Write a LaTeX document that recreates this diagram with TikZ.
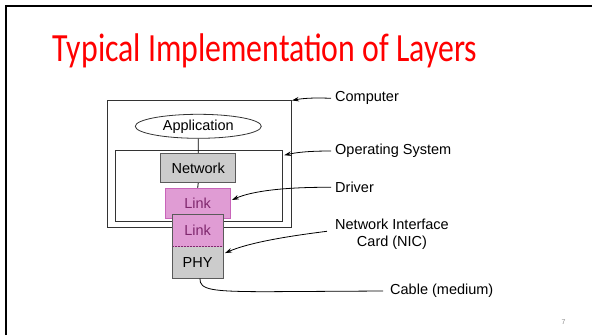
\documentclass[tikz,border=0pt]{standalone}
\usepackage{fontspec}
\setmainfont{Liberation Sans}
\newfontfamily\titlefont{Carlito}
\usetikzlibrary{arrows.meta,shapes.geometric,calc}
\definecolor{pinkfill}{RGB}{224,156,212}
\definecolor{pinkedge}{RGB}{200,100,185}
\definecolor{linktext}{RGB}{128,40,110}
\definecolor{grayfill}{RGB}{204,204,204}
\definecolor{grayedge}{RGB}{90,90,90}
\definecolor{titlered}{RGB}{255,0,0}
\tikzset{
  body/.style={font=\fontsize{14.5}{17}\selectfont},
  plainbox/.style={draw=black!80, line width=0.8pt, inner sep=0pt},
  graybox/.style={draw=grayedge, fill=grayfill, line width=0.8pt, inner sep=0pt, body},
  pinkbox/.style={draw=pinkedge, fill=pinkfill, line width=0.8pt, inner sep=0pt, body, text=linktext},
  lbl/.style={body, anchor=west, inner sep=0pt},
  pointer/.style={-{Stealth[length=7pt,width=4.5pt]}, line width=0.8pt},
  conn/.style={line width=0.8pt}
}
\begin{document}
\begin{tikzpicture}[x=1pt,y=-1pt]
\useasboundingbox (0,0) rectangle (592,335);
% slide frame
\draw[line width=2pt] (6,335) -- (6,5.5) -- (592,5.5);
% title
\node[text=titlered, font=\titlefont\fontsize{40}{44}\selectfont, anchor=base, inner sep=0pt] (title) at (265,61.7) {\scalebox{0.795}[1]{Typical Implementation of Layers}};
% boxes
\node[plainbox, minimum width=183.7pt, minimum height=127.3pt] (comp) at (199.2,163.7) {};
\node[draw=black!80, line width=0.8pt, ellipse, minimum width=126pt, minimum height=24pt, inner sep=0pt, body] (app) at (198.3,126.3) {Application};
\node[plainbox, fill=white, minimum width=166.6pt, minimum height=71pt] (os) at (199,185.8) {};
\node[graybox, minimum width=75pt, minimum height=29.4pt] (net) at (198.2,168) {Network};
\node[pinkbox, minimum width=64.7pt, minimum height=30pt] (drv) at (197.7,203.3) {Link};
\draw[conn] (app.south) -- (net.north);
\draw[conn] (net.south) -- (drv.north);
% NIC
\node[fill=pinkfill, minimum width=51.3pt, minimum height=32.5pt, inner sep=0pt, body, text=linktext] (niclink) at (197.65,230.25) {Link};
\node[fill=grayfill, minimum width=51.3pt, minimum height=31.8pt, inner sep=0pt, body] (phy) at (197.65,262.4) {PHY};
\draw[dashed, draw=linktext, line width=0.6pt, dash pattern=on 2pt off 1pt] (niclink.south west) -- (niclink.south east);
\node[draw=grayedge, line width=0.8pt, minimum width=51.3pt, minimum height=64.3pt, inner sep=0pt] (nic) at (197.65,246.15) {};
% labels
\node[lbl] (lcomp) at (335,98.3) {Computer};
\node[lbl] (los) at (335,151) {Operating System};
\node[lbl] (ldrv) at (335,187.3) {Driver};
\node[body, align=center, inner sep=0pt, anchor=west] (lnic) at (335,234) {Network Interface\\Card (NIC)};
\node[lbl] (lcab) at (390,291) {Cable (medium)};
% pointers
\draw[pointer] ([xshift=-4pt]lcomp.west) .. controls (312,97.5) and (302,98.5) .. ($(comp.north east)+(0.5,0.8)$);
\draw[pointer] ([xshift=-4pt]los.west) .. controls (308,151) and (296,152.5) .. ($(os.north east)+(1.5,5.3)$);
\draw[pointer] ([xshift=-4pt]ldrv.west) .. controls (285,187) and (252,191) .. ($(drv.east)+(1.5,-3.3)$);
\draw[pointer] ([xshift=-8pt,yshift=2.7pt]lnic.west) .. controls (285,236.5) and (248,243) .. ($(phy.north east)+(1.5,6.8)$);
\draw[conn] ([xshift=2.3pt]phy.south) .. controls (199.5,290) and (212,291.5) .. (265,291.7) -- ([xshift=-7pt]lcab.west);
% page number
\node[text=black!45, font=\fontsize{7}{8}\selectfont, inner sep=0pt] (pnum) at (563.5,322) {7};
\end{tikzpicture}
\end{document}
